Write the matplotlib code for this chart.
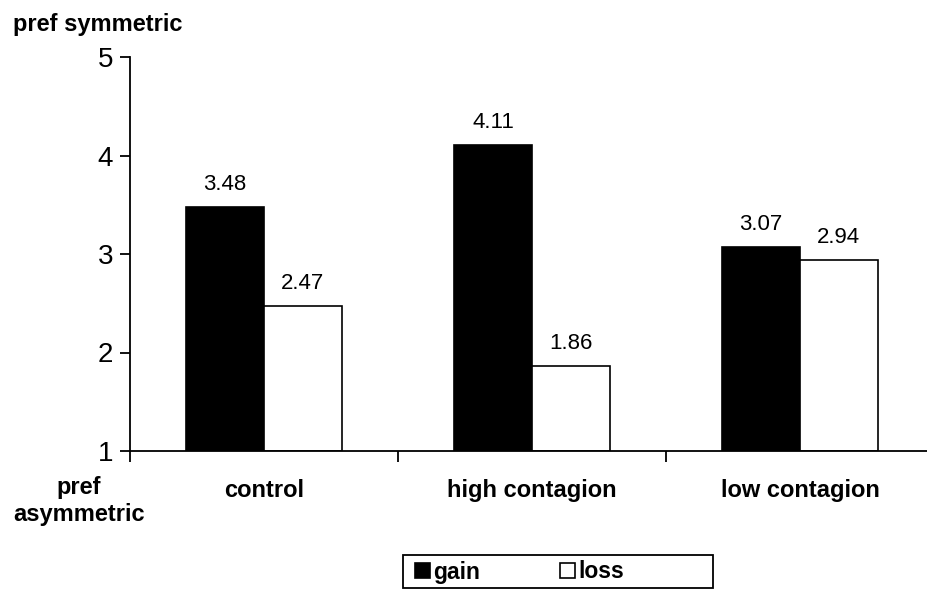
import numpy as np
import matplotlib.pyplot as plt
from matplotlib.patches import Rectangle

plt.rcParams['font.family'] = ['Liberation Sans', 'DejaVu Sans']

categories = ["control", "high contagion", "low contagion"]
gain = [3.48, 4.11, 3.07]
loss = [2.47, 1.86, 2.94]

fig = plt.figure(figsize=(9.27, 5.9), dpi=100)
ax = fig.add_axes([130 / 927, 1 - 451 / 590, 804 / 927, 394 / 590])

x = np.arange(len(categories)) + 0.5
w = 0.29
b1 = ax.bar(x - w / 2, np.array(gain) - 1, w, bottom=1, color="black",
            edgecolor="black", linewidth=1.2, label="gain")
b2 = ax.bar(x + w / 2, np.array(loss) - 1, w, bottom=1, color="white",
            edgecolor="black", linewidth=1.2, label="loss")

# value labels above bars
for xs, vals in ((x - w / 2, gain), (x + w / 2, loss)):
    for xi, v in zip(xs, vals):
        ax.text(xi, v + 0.23, f"{v:.2f}", ha="center", va="center", fontsize=16)

ax.set_xlim(0, 3)
ax.set_ylim(1, 5)
ax.set_yticks([1, 2, 3, 4, 5])
ax.tick_params(axis="y", labelsize=20, direction="out", length=7, width=1.3, pad=5)
ax.set_xticks([0, 1, 2, 3])
ax.set_xticklabels([])
ax.tick_params(axis="x", direction="out", length=8, width=1.3)
for s in ("top", "right"):
    ax.spines[s].set_visible(False)
for s in ("left", "bottom"):
    ax.spines[s].set_linewidth(1.3)

for xi, c in zip(x, categories):
    ax.text(xi, -0.1015, c, ha="center", va="center", fontsize=17, fontweight="bold",
            transform=ax.get_xaxis_transform())

fig.text(98 / 927, 1 - 25 / 590, "pref symmetric", ha="center", va="center",
         fontsize=17, fontweight="bold")
fig.text(79 / 927, 1 - 501 / 590, "pref\nasymmetric", ha="center", va="center",
         fontsize=17, fontweight="bold", linespacing=1.25)

# legend box
fig.patches.append(Rectangle((403 / 927, 2 / 590), 310 / 927, 33 / 590,
                             transform=fig.transFigure, facecolor="white",
                             edgecolor="black", linewidth=1.3))
leg = fig.legend(handles=[b1, b2], labels=["gain", "loss"], ncol=2,
                 loc="center left", bbox_to_anchor=(415 / 927, 1 - 572 / 590),
                 frameon=False, prop={"weight": "bold", "size": 16.5},
                 handlelength=0.65, handleheight=0.65, handletextpad=0.15,
                 columnspacing=3.5, borderaxespad=0, borderpad=0)

fig.savefig("out.png", dpi=100)
